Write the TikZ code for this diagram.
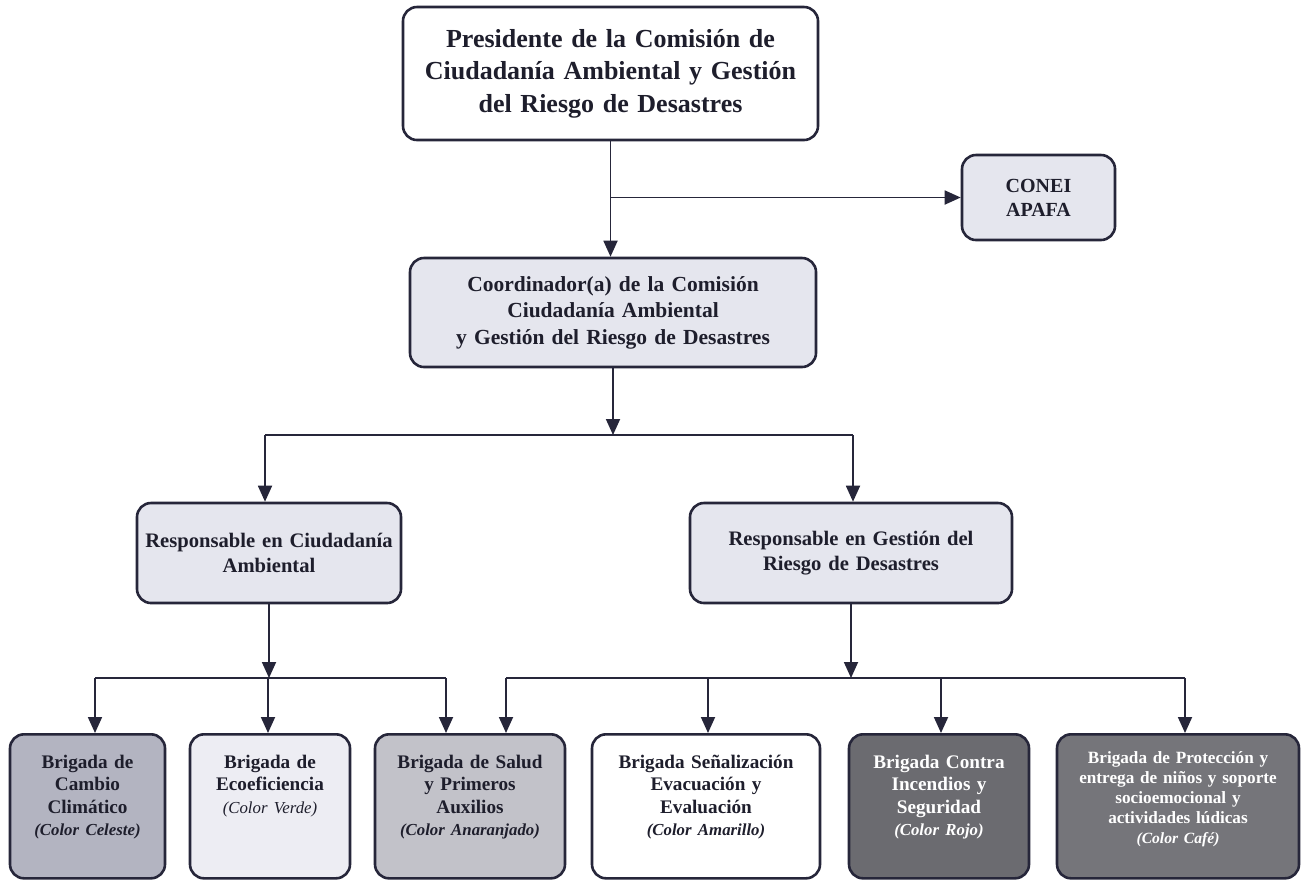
\documentclass[tikz,border=0pt]{standalone}
\usepackage{fontspec}
\setmainfont{Liberation Serif}
\usetikzlibrary{arrows.meta}

\definecolor{linea}{HTML}{26263A}
\definecolor{texto}{HTML}{1E1E2C}
\definecolor{celesteclaro}{HTML}{E5E6EE}
\definecolor{grisazul}{HTML}{B3B4C1}
\definecolor{grisclaro}{HTML}{EDEDF3}
\definecolor{grismedio}{HTML}{C2C2C9}
\definecolor{grisoscuro}{HTML}{6B6B70}
\definecolor{grisfuerte}{HTML}{75757A}

\tikzset{
  caja/.style={draw=linea, line width=1.3pt, rounded corners=7pt, align=center,
    text=texto, inner sep=2pt},
  brigada/.style={caja, anchor=north, inner ysep=0pt, text height=17pt, text depth=55pt,
    font=\bfseries\fontsize{9.6}{11.2}\selectfont},
  flecha/.style={draw=linea, line width=0.9pt, -{Triangle[width=7pt,length=8pt]}},
  conector/.style={draw=linea, line width=0.9pt},
}
\newcommand{\colorlbl}[1]{{\itshape\fontsize{8.4}{11.2}\selectfont(#1)}}

\begin{document}
\begin{tikzpicture}[x=0.5pt,y=-0.5pt]
    \useasboundingbox (0,0) rectangle (1304,880);

    % Direccion
    \node[caja, fill=white, minimum width=207.5pt, minimum height=66.5pt, text width=195pt,
      font=\bfseries\fontsize{13}{16.25}\selectfont] (pres) at (610.5,73.5)
      {Presidente de la Comisión de\\ Ciudadanía Ambiental y Gestión\\ del Riesgo de Desastres};
    \node[caja, fill=celesteclaro, minimum width=76.5pt, minimum height=42.5pt, text width=70pt,
      font=\bfseries\fontsize{10}{12}\selectfont] (conei) at (1038.5,197.5) {CONEI\\ APAFA};
    \node[caja, fill=celesteclaro, minimum width=203pt, minimum height=54.5pt, text width=195pt,
      font=\bfseries\fontsize{10.75}{13.25}\selectfont] (coord) at (613,312.5)
      {Coordinador(a) de la Comisión\\ Ciudadanía Ambiental\\ y Gestión del Riesgo de Desastres};

    % Responsables
    \node[caja, fill=celesteclaro, minimum width=132pt, minimum height=50pt, text width=126pt,
      font=\bfseries\fontsize{10.3}{12.5}\selectfont] (respca) at (269,553)
      {Responsable en Ciudadanía\\ Ambiental};
    \node[caja, fill=celesteclaro, minimum width=161pt, minimum height=50pt, text width=155pt,
      font=\bfseries\fontsize{10.3}{12.5}\selectfont] (respgrd) at (851,553)
      {Responsable en Gestión del\\ Riesgo de Desastres};

    % Brigadas
    \node[brigada, fill=grisazul, minimum width=77.5pt, text width=73pt] (bcc) at (87.5,733)
      {Brigada de\\ Cambio\\ Climático\\ \colorlbl{Color Celeste}};
    \node[brigada, fill=grisclaro, minimum width=80pt, text width=75pt] (beco) at (270,733)
      {Brigada de\\ Ecoeficiencia\\ {\mdseries\colorlbl{Color Verde}}};
    \node[brigada, fill=grismedio, minimum width=95pt, text width=91pt] (bsalud) at (470,733)
      {Brigada de Salud\\ y Primeros\\ Auxilios\\ \colorlbl{Color Anaranjado}};
    \node[brigada, fill=white, minimum width=114pt, text width=108pt] (bsen) at (706,733)
      {Brigada Señalización\\ Evacuación y\\ Evaluación\\ \colorlbl{Color Amarillo}};
    \node[brigada, fill=grisoscuro, text=white, minimum width=90pt, text width=85pt] (binc) at (939,733)
      {Brigada Contra\\ Incendios y\\ Seguridad\\ \colorlbl{Color Rojo}};
    \node[brigada, fill=grisfuerte, text=white, minimum width=121pt, text width=117pt,
      text height=14.5pt, text depth=57.5pt, font=\bfseries\fontsize{8.6}{10}\selectfont] (bprot) at (1178,733)
      {Brigada de Protección y\\ entrega de niños y soporte\\ socioemocional y\\ actividades lúdicas\\
       {\itshape\fontsize{7.8}{10}\selectfont(Color Café)}};

    % Conectores superiores
    \draw[flecha] (pres.south) -- (pres.south |- coord.north);
    \coordinate (rconei) at (pres.south |- conei.west);
    \draw[flecha] (rconei) -- (conei.west);

    \coordinate (j1) at (613,435);
    \draw[flecha] (coord.south) -- (j1);
    \coordinate (j1a) at (265,435);
    \coordinate (j1b) at (853,435);
    \draw[conector] (j1a) -- (j1b);
    \draw[flecha] (j1a) -- (j1a |- respca.north);
    \draw[flecha] (j1b) -- (j1b |- respgrd.north);

    % Ciudadania ambiental
    \coordinate (j2) at (269,678);
    \draw[flecha] (respca.south) -- (j2);
    \coordinate (a1) at (95,678);
    \coordinate (a2) at (268,678);
    \coordinate (a3) at (446,678);
    \draw[conector] (a1) -- (a3);
    \draw[flecha] (a1) -- (a1 |- bcc.north);
    \draw[flecha] (a2) -- (a2 |- beco.north);
    \draw[flecha] (a3) -- (a3 |- bsalud.north);

    % Gestion del riesgo
    \coordinate (j3) at (851,678);
    \draw[flecha] (respgrd.south) -- (j3);
    \coordinate (c1) at (506,678);
    \coordinate (c2) at (708,678);
    \coordinate (c3) at (941,678);
    \coordinate (c4) at (1185,678);
    \draw[conector] (c1) -- (c4);
    \draw[flecha] (c1) -- (c1 |- bsalud.north);
    \draw[flecha] (c2) -- (c2 |- bsen.north);
    \draw[flecha] (c3) -- (c3 |- binc.north);
    \draw[flecha] (c4) -- (c4 |- bprot.north);
\end{tikzpicture}
\end{document}
